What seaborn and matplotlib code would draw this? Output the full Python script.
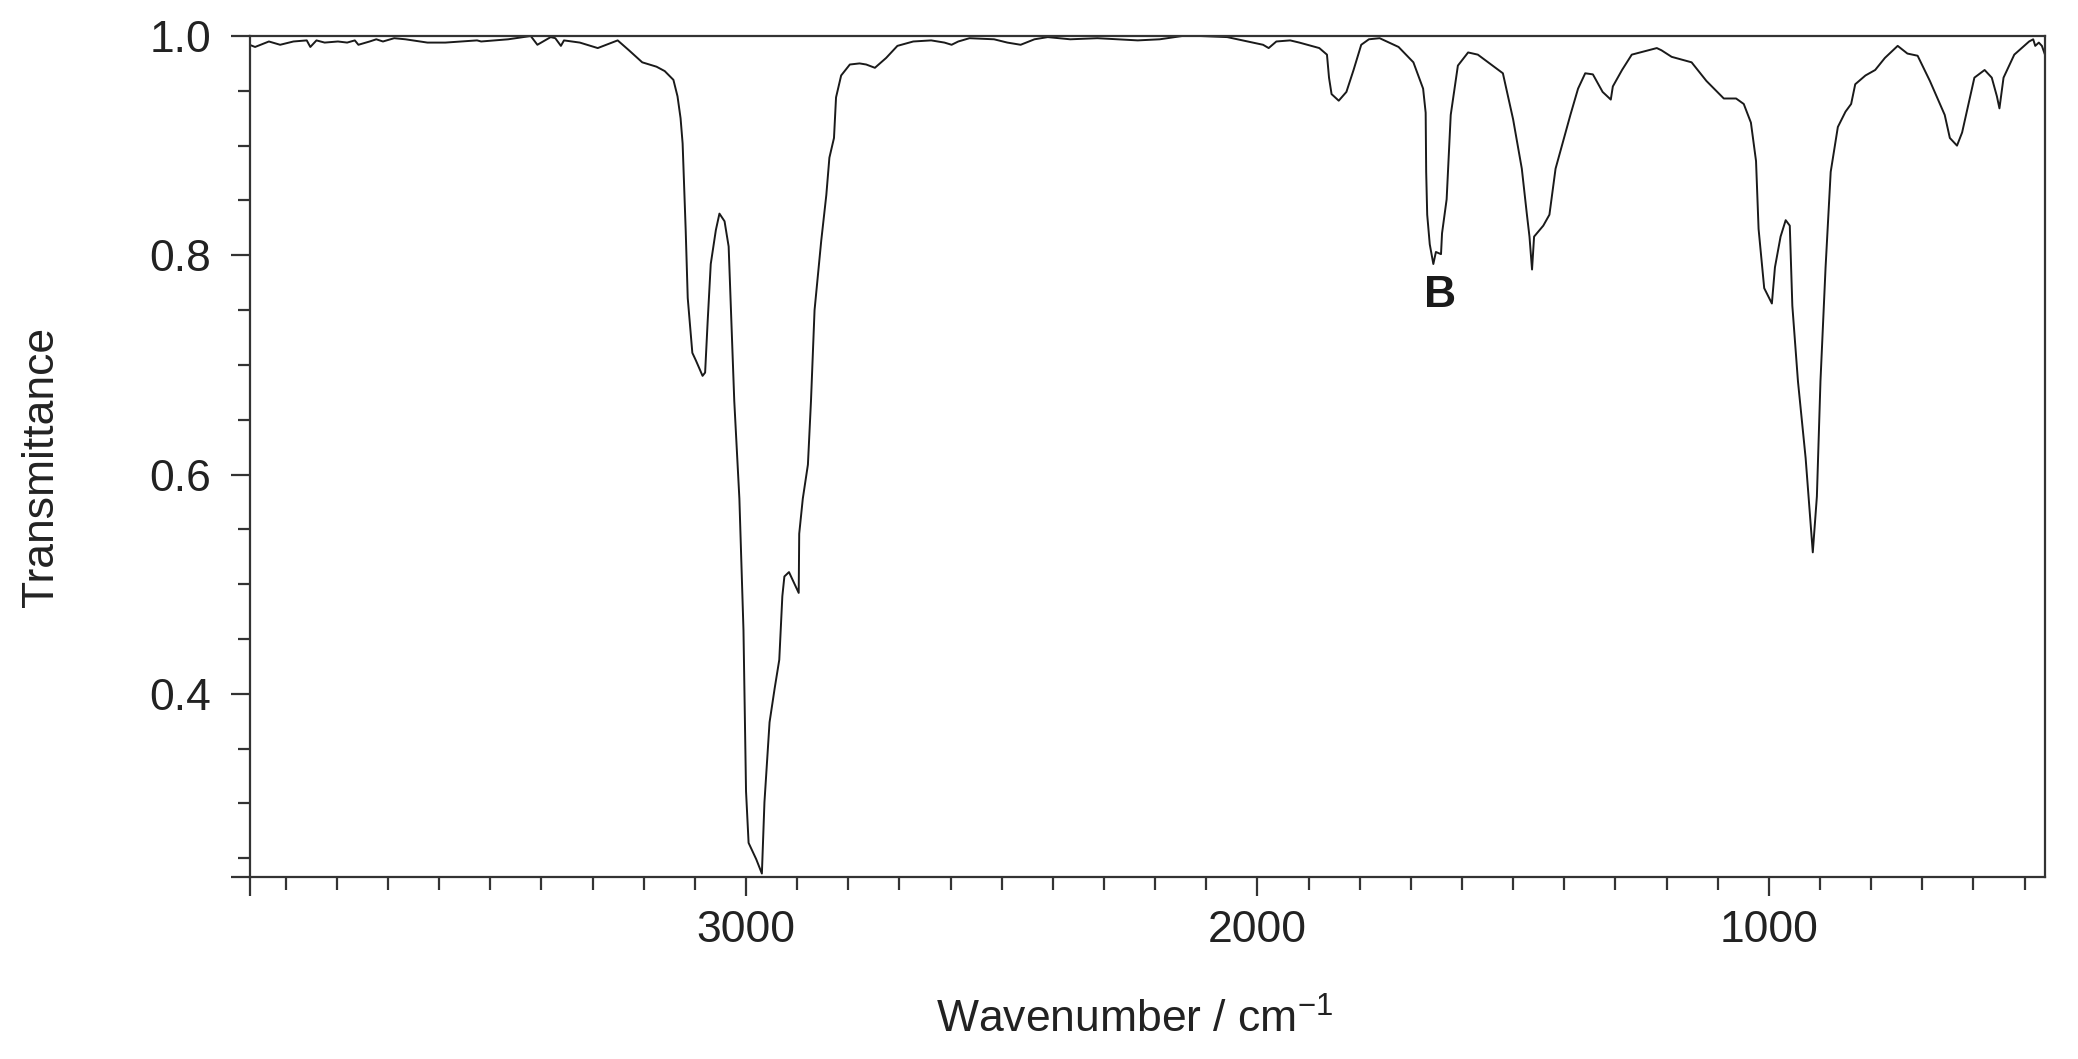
import matplotlib
matplotlib.use("Agg")
import matplotlib.pyplot as plt
import numpy as np
import pandas as pd
import seaborn as sns
from matplotlib.ticker import FixedLocator

# IR spectrum (wavenumber in cm-1, transmittance)
wavenumber = [
    3971, 3960, 3933, 3911, 3885, 3859, 3852, 3840, 3824, 3798, 3780, 3765, 3758,
    3736, 3723, 3710, 3688, 3666, 3623, 3588, 3526, 3518, 3465, 3421, 3408, 3382,
    3373, 3362, 3356, 3325, 3290, 3251, 3229, 3203, 3175, 3159, 3142, 3134, 3128,
    3124, 3118, 3114, 3105, 3098, 3085, 3080, 3075, 3069, 3059, 3052, 3042, 3034,
    3029, 3023, 3013, 3005, 3000, 2995, 2980, 2969, 2964, 2954, 2944, 2935, 2929,
    2925, 2916, 2907, 2897, 2896, 2889, 2879, 2873, 2866, 2853, 2843, 2837, 2828,
    2824, 2814, 2797, 2778, 2765, 2748, 2726, 2704, 2673, 2638, 2612, 2598, 2585,
    2563, 2515, 2489, 2463, 2436, 2410, 2366, 2313, 2234, 2191, 2147, 2112, 2059,
    1989, 1978, 1963, 1936, 1918, 1879, 1864, 1860, 1855, 1841, 1826, 1812, 1797,
    1782, 1761, 1724, 1695, 1676, 1671, 1670, 1668, 1663, 1656, 1651, 1641, 1639,
    1630, 1622, 1608, 1588, 1569, 1540, 1520, 1500, 1483, 1473, 1468, 1463, 1459,
    1441, 1429, 1417, 1407, 1388, 1373, 1359, 1344, 1325, 1309, 1305, 1287, 1268,
    1219, 1210, 1190, 1151, 1122, 1088, 1064, 1049, 1035, 1025, 1020, 1009, 994,
    988, 977, 967, 959, 954, 943, 928, 914, 906, 899, 889, 879, 865, 850, 839, 831,
    811, 792, 773, 748, 729, 709, 685, 656, 646, 632, 622, 598, 578, 564, 554, 549,
    541, 520, 491, 483, 479, 472, 466, 460,
]
transmittance = [
    0.992, 0.990, 0.995, 0.992, 0.995, 0.996, 0.990, 0.996, 0.994, 0.995, 0.994, 0.996, 0.992,
    0.995, 0.997, 0.995, 0.998, 0.997, 0.994, 0.994, 0.996, 0.995, 0.997, 1.000, 0.992, 0.999,
    0.998, 0.991, 0.996, 0.994, 0.989, 0.996, 0.987, 0.976, 0.972, 0.968, 0.960, 0.945, 0.925,
    0.902, 0.823, 0.761, 0.711, 0.704, 0.690, 0.693, 0.740, 0.792, 0.823, 0.838, 0.831, 0.808,
    0.745, 0.667, 0.578, 0.458, 0.311, 0.264, 0.249, 0.236, 0.301, 0.374, 0.405, 0.431, 0.489,
    0.507, 0.511, 0.502, 0.492, 0.546, 0.578, 0.609, 0.667, 0.750, 0.813, 0.855, 0.889, 0.907,
    0.944, 0.964, 0.974, 0.975, 0.974, 0.971, 0.980, 0.991, 0.995, 0.996, 0.994, 0.992, 0.995,
    0.998, 0.997, 0.994, 0.992, 0.997, 0.999, 0.997, 0.998, 0.996, 0.997, 1.000, 1.000, 0.999,
    0.992, 0.989, 0.995, 0.996, 0.994, 0.989, 0.983, 0.962, 0.947, 0.941, 0.949, 0.969, 0.992,
    0.997, 0.998, 0.990, 0.976, 0.952, 0.930, 0.876, 0.837, 0.810, 0.792, 0.803, 0.801, 0.820,
    0.851, 0.928, 0.973, 0.985, 0.983, 0.973, 0.966, 0.924, 0.879, 0.837, 0.817, 0.787, 0.817,
    0.827, 0.837, 0.879, 0.896, 0.928, 0.952, 0.966, 0.965, 0.949, 0.942, 0.954, 0.969, 0.983,
    0.989, 0.987, 0.981, 0.976, 0.959, 0.943, 0.943, 0.938, 0.921, 0.886, 0.824, 0.770, 0.756,
    0.789, 0.817, 0.832, 0.827, 0.754, 0.685, 0.615, 0.529, 0.580, 0.685, 0.789, 0.876, 0.917, 0.931, 0.938, 0.956,
    0.964, 0.969, 0.980, 0.991, 0.984, 0.982, 0.959, 0.928, 0.907, 0.900, 0.912, 0.962, 0.969, 0.962, 0.945, 0.934,
    0.962, 0.983, 0.995, 0.997, 0.991, 0.994, 0.991, 0.983,
]

x_range = (3970, 460)
y_range = (0.233, 1.0)
x_labelled = [3000, 2000, 1000]
y_labelled = [0.4, 0.6, 0.8, 1.0]
peak_label = "B"
peak_pos = (1642, 0.753)

df = pd.DataFrame({"wavenumber": wavenumber, "T": transmittance})

sns.set_theme(style="ticks")
plt.rcParams["font.family"] = ["Liberation Sans", "DejaVu Sans"]
plt.rcParams["mathtext.fontset"] = "custom"
plt.rcParams["mathtext.rm"] = "Liberation Sans"
plt.rcParams["mathtext.default"] = "regular"

fig, ax = plt.subplots(figsize=(20.78, 10.59), dpi=100)
fig.subplots_adjust(left=0.1203, right=0.9841, top=0.966, bottom=0.172)

sns.lineplot(data=df, x="wavenumber", y="T", sort=False, estimator=None,
             color="#1a1a1a", linewidth=1.4, ax=ax)
for ln in ax.get_lines():
    ln.set_solid_joinstyle("round")

ax.set_xlim(*x_range)
ax.set_ylim(*y_range)

# long ticks at the axis ends, as in the original software
ax.xaxis.set_major_locator(FixedLocator([x_range[0]] + x_labelled))
ax.set_xticklabels([""] + [str(v) for v in x_labelled])
ax.xaxis.set_minor_locator(FixedLocator(np.arange(500, 4000, 100)))
ax.yaxis.set_major_locator(FixedLocator([y_range[0]] + y_labelled))
ax.set_yticklabels([""] + [f"{v:.1f}" for v in y_labelled])
ax.yaxis.set_minor_locator(FixedLocator(np.arange(0.25, 1.0, 0.05)))

for s in ax.spines.values():
    s.set_color("#333333")
    s.set_linewidth(1.6)
ax.tick_params(which="major", length=14, width=1.6, color="#333333",
               labelsize=32, labelcolor="#222222", direction="out")
ax.tick_params(axis="x", which="major", pad=10)
ax.tick_params(axis="y", which="major", pad=14)
ax.tick_params(which="minor", length=9, width=1.6, color="#333333", direction="out")

ax.set_xlabel("Wavenumber / cm$^{-1}$", fontsize=32, color="#222222", va="baseline")
ax.xaxis.set_label_coords(0.493, -0.1855)
ax.set_ylabel("Transmittance", fontsize=32, color="#222222", va="center")
ax.yaxis.set_label_coords(-0.1159, 0.487)

ax.text(peak_pos[0], peak_pos[1], peak_label, fontsize=32, fontweight="bold",
        color="#1a1a1a", ha="center", va="baseline")

fig.savefig("out.png", dpi=100)
